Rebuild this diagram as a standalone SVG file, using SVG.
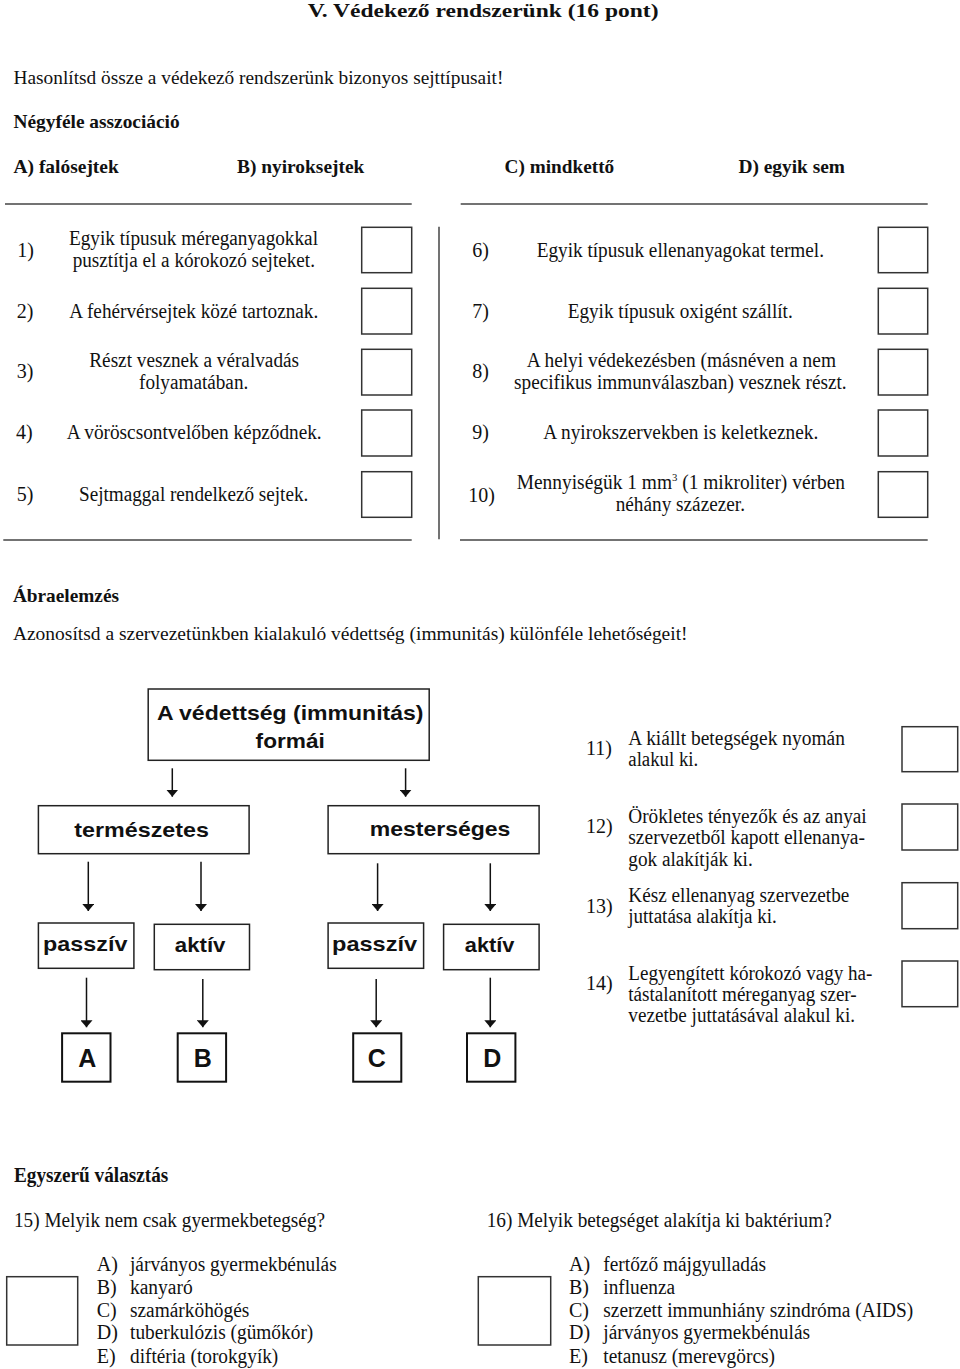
<svg xmlns="http://www.w3.org/2000/svg" width="960" height="1369" viewBox="0 0 960 1369">
<style>
.t{font-family:"Liberation Serif","Times New Roman",serif;font-size:20px;fill:#111}
.h{font-family:"Liberation Serif","Times New Roman",serif;font-size:19px;fill:#111}
.b{font-weight:bold}
.s{font-family:"Liberation Sans",Arial,sans-serif;font-weight:bold;font-size:21px;fill:#111}
.L{font-family:"Liberation Sans",Arial,sans-serif;font-weight:bold;font-size:25px;fill:#111;text-anchor:middle}
.box{fill:none;stroke:#333;stroke-width:1.5}
.nb{fill:#fff;stroke:#222;stroke-width:1.5}
.lb{fill:#fff;stroke:#111;stroke-width:2}
.rule{stroke:#444;stroke-width:1.5;fill:none}
.con{stroke:#111;stroke-width:1.5;fill:none;marker-end:url(#ah)}
</style>
<defs>
<marker id="ah" viewBox="0 0 7 12" refX="7" refY="6" markerWidth="7" markerHeight="12" markerUnits="userSpaceOnUse" orient="auto">
<path d="M0,0 L7,6 L0,12 z" fill="#111"/>
</marker>
</defs>
<rect width="960" height="1369" fill="#fff"/>

<!-- Header -->
<text class="h b" x="307.7" y="16.7" font-size="22" textLength="350.8" lengthAdjust="spacingAndGlyphs">V. Védekező rendszerünk (16 pont)</text>
<text class="h" x="13.5" y="84" textLength="489.9" lengthAdjust="spacingAndGlyphs">Hasonlítsd össze a védekező rendszerünk bizonyos sejttípusait!</text>
<text class="h b" x="13.5" y="128.3" textLength="166.2" lengthAdjust="spacingAndGlyphs">Négyféle asszociáció</text>
<text class="h b" x="13.5" y="173.3" textLength="105.3" lengthAdjust="spacingAndGlyphs">A) falósejtek</text>
<text class="h b" x="237" y="173.3" textLength="127.3" lengthAdjust="spacingAndGlyphs">B) nyiroksejtek</text>
<text class="h b" x="504.6" y="173.3" textLength="109.6" lengthAdjust="spacingAndGlyphs">C) mindkettő</text>
<text class="h b" x="738.5" y="173.3" textLength="106.5" lengthAdjust="spacingAndGlyphs">D) egyik sem</text>

<!-- Rules -->
<line class="rule" x1="5" y1="204" x2="411.7" y2="204"/>
<line class="rule" x1="460.7" y1="204" x2="927.7" y2="204"/>
<line class="rule" x1="3.3" y1="540" x2="411.7" y2="540"/>
<line class="rule" x1="460" y1="540" x2="927.7" y2="540"/>
<line class="rule" x1="439" y1="226.7" x2="439" y2="539.3"/>

<!-- Left column -->
<text class="t" x="17.3" y="256.7">1)</text>
<text class="t" x="69" y="245" textLength="249" lengthAdjust="spacingAndGlyphs">Egyik típusuk méreganyagokkal</text>
<text class="t" x="72.7" y="267.3" textLength="242.3" lengthAdjust="spacingAndGlyphs">pusztítja el a kórokozó sejteket.</text>
<text class="t" x="16.7" y="317.7">2)</text>
<text class="t" x="69.3" y="317.7" textLength="249" lengthAdjust="spacingAndGlyphs">A fehérvérsejtek közé tartoznak.</text>
<text class="t" x="16.7" y="378.3">3)</text>
<text class="t" x="89.3" y="367.3" textLength="209.7" lengthAdjust="spacingAndGlyphs">Részt vesznek a véralvadás</text>
<text class="t" x="139" y="389.3" textLength="109.3" lengthAdjust="spacingAndGlyphs">folyamatában.</text>
<text class="t" x="16" y="439.3">4)</text>
<text class="t" x="66.7" y="439.3" textLength="255" lengthAdjust="spacingAndGlyphs">A vöröscsontvelőben képződnek.</text>
<text class="t" x="16.7" y="500.7">5)</text>
<text class="t" x="79" y="500.7" textLength="229.3" lengthAdjust="spacingAndGlyphs">Sejtmaggal rendelkező sejtek.</text>
<rect class="box" x="361.7" y="227.3" width="50" height="45.4"/>
<rect class="box" x="361.7" y="288.3" width="50" height="45.7"/>
<rect class="box" x="361.7" y="349.3" width="50" height="45.7"/>
<rect class="box" x="361.7" y="410" width="50" height="46"/>
<rect class="box" x="361.7" y="471.7" width="50" height="45.6"/>

<!-- Right column -->
<text class="t" x="472.3" y="256.7">6)</text>
<text class="t" x="536.7" y="256.7" textLength="287.3" lengthAdjust="spacingAndGlyphs">Egyik típusuk ellenanyagokat termel.</text>
<text class="t" x="472.3" y="317.7">7)</text>
<text class="t" x="567.7" y="317.7" textLength="225" lengthAdjust="spacingAndGlyphs">Egyik típusuk oxigént szállít.</text>
<text class="t" x="472.3" y="378.3">8)</text>
<text class="t" x="526.7" y="367.3" textLength="309.3" lengthAdjust="spacingAndGlyphs">A helyi védekezésben (másnéven a nem</text>
<text class="t" x="514" y="389.3" textLength="332.7" lengthAdjust="spacingAndGlyphs">specifikus immunválaszban) vesznek részt.</text>
<text class="t" x="472.3" y="439.3">9)</text>
<text class="t" x="543.3" y="439.3" textLength="275" lengthAdjust="spacingAndGlyphs">A nyirokszervekben is keletkeznek.</text>
<text class="t" x="468.3" y="501.7">10)</text>
<text class="t" x="516.7" y="489" textLength="328.3" lengthAdjust="spacingAndGlyphs">Mennyiségük 1 mm<tspan font-size="11" dy="-8">3</tspan><tspan dy="8"> (1 mikroliter) vérben</tspan></text>
<text class="t" x="615.7" y="510.7" textLength="129.3" lengthAdjust="spacingAndGlyphs">néhány százezer.</text>
<rect class="box" x="878.3" y="227.3" width="49.4" height="45.4"/>
<rect class="box" x="878.3" y="288.3" width="49.4" height="45.7"/>
<rect class="box" x="878.3" y="349.3" width="49.4" height="45.7"/>
<rect class="box" x="878.3" y="410" width="49.4" height="46"/>
<rect class="box" x="878.3" y="471.7" width="49.4" height="45.6"/>

<!-- Section 2 -->
<text class="h b" x="12.9" y="602.3" textLength="106.1" lengthAdjust="spacingAndGlyphs">Ábraelemzés</text>
<text class="h" x="12.9" y="640" textLength="674.7" lengthAdjust="spacingAndGlyphs">Azonosítsd a szervezetünkben kialakuló védettség (immunitás) különféle lehetőségeit!</text>

<!-- Connectors -->
<g id="connectors">
<line class="con" x1="172.3" y1="768.3" x2="172.3" y2="796.7"/>
<line class="con" x1="405.6" y1="768.3" x2="405.6" y2="796.7"/>
<line class="con" x1="88.3" y1="861.7" x2="88.3" y2="911"/>
<line class="con" x1="201" y1="861.7" x2="201" y2="911"/>
<line class="con" x1="377.6" y1="863.3" x2="377.6" y2="911"/>
<line class="con" x1="490.3" y1="863.3" x2="490.3" y2="911"/>
<line class="con" x1="86.5" y1="977.7" x2="86.5" y2="1027.3"/>
<line class="con" x1="202.8" y1="979" x2="202.8" y2="1027.3"/>
<line class="con" x1="376.2" y1="979" x2="376.2" y2="1027.3"/>
<line class="con" x1="490.3" y1="977.7" x2="490.3" y2="1027.3"/>
</g>

<!-- Nodes -->
<g id="n-root">
<rect class="nb" x="148.2" y="689" width="281" height="71.3"/>
<text class="s" x="156.9" y="720" font-size="22" textLength="266.6" lengthAdjust="spacingAndGlyphs">A védettség (immunitás)</text>
<text class="s" x="255.6" y="747.7" font-size="22" textLength="69.2" lengthAdjust="spacingAndGlyphs">formái</text>
</g>
<g id="n-termeszetes">
<rect class="nb" x="38.4" y="805.7" width="210.7" height="48"/>
<text class="s" x="74.3" y="836.7" textLength="134.6" lengthAdjust="spacingAndGlyphs">természetes</text>
</g>
<g id="n-mesterseges">
<rect class="nb" x="328.1" y="805.7" width="211" height="48"/>
<text class="s" x="369.7" y="836" textLength="140.7" lengthAdjust="spacingAndGlyphs">mesterséges</text>
</g>
<g id="n-passziv1">
<rect class="nb" x="38.4" y="923" width="95.5" height="45.3"/>
<text class="s" x="43.1" y="950.7" textLength="84.3" lengthAdjust="spacingAndGlyphs">passzív</text>
</g>
<g id="n-aktiv1">
<rect class="nb" x="154.3" y="924.3" width="95.2" height="45.4"/>
<text class="s" x="174.8" y="951.7" textLength="50.6" lengthAdjust="spacingAndGlyphs">aktív</text>
</g>
<g id="n-passziv2">
<rect class="nb" x="328.1" y="923" width="95.5" height="45.3"/>
<text class="s" x="332" y="950.7" textLength="85.1" lengthAdjust="spacingAndGlyphs">passzív</text>
</g>
<g id="n-aktiv2">
<rect class="nb" x="443.6" y="924.3" width="95.5" height="45.4"/>
<text class="s" x="464.8" y="951.7" textLength="49.6" lengthAdjust="spacingAndGlyphs">aktív</text>
</g>
<g id="n-A">
<rect class="lb" x="62.1" y="1033.3" width="48.4" height="48.4"/>
<text class="L" x="87.2" y="1066.7">A</text>
</g>
<g id="n-B">
<rect class="lb" x="177.7" y="1033.3" width="48.4" height="48.4"/>
<text class="L" x="202.8" y="1066.7">B</text>
</g>
<g id="n-C">
<rect class="lb" x="353.2" y="1033.3" width="48.1" height="48.4"/>
<text class="L" x="376.9" y="1066.7">C</text>
</g>
<g id="n-D">
<rect class="lb" x="467" y="1033.3" width="48.4" height="48.4"/>
<text class="L" x="492.3" y="1066.7">D</text>
</g>

<!-- Questions 11-14 -->
<text class="t" x="586" y="755">11)</text>
<text class="t" x="628.3" y="744.7" textLength="216.7" lengthAdjust="spacingAndGlyphs">A kiállt betegségek nyomán</text>
<text class="t" x="628.3" y="765.7" textLength="70" lengthAdjust="spacingAndGlyphs">alakul ki.</text>
<text class="t" x="586" y="833.3">12)</text>
<text class="t" x="628.3" y="823.3" textLength="238.4" lengthAdjust="spacingAndGlyphs">Örökletes tényezők és az anyai</text>
<text class="t" x="628.3" y="844" textLength="236.7" lengthAdjust="spacingAndGlyphs">szervezetből kapott ellenanya-</text>
<text class="t" x="628.3" y="865.7" textLength="124.4" lengthAdjust="spacingAndGlyphs">gok alakítják ki.</text>
<text class="t" x="586" y="912.7">13)</text>
<text class="t" x="628.3" y="901.7" textLength="221" lengthAdjust="spacingAndGlyphs">Kész ellenanyag szervezetbe</text>
<text class="t" x="628.3" y="922.7" textLength="148.4" lengthAdjust="spacingAndGlyphs">juttatása alakítja ki.</text>
<text class="t" x="586" y="990">14)</text>
<text class="t" x="628.3" y="980" textLength="244" lengthAdjust="spacingAndGlyphs">Legyengített kórokozó vagy ha-</text>
<text class="t" x="628.3" y="1001" textLength="228.4" lengthAdjust="spacingAndGlyphs">tástalanított méreganyag szer-</text>
<text class="t" x="628.3" y="1021.7" textLength="226.7" lengthAdjust="spacingAndGlyphs">vezetbe juttatásával alakul ki.</text>
<rect class="box" x="902" y="726.7" width="55.7" height="45"/>
<rect class="box" x="902" y="804" width="55.7" height="46"/>
<rect class="box" x="902" y="882.7" width="55.7" height="46"/>
<rect class="box" x="902" y="961" width="55.7" height="45.7"/>

<!-- Section 3 -->
<text class="t b" x="14" y="1182.3" textLength="154.3" lengthAdjust="spacingAndGlyphs">Egyszerű választás</text>
<text class="t" x="14" y="1226.7" textLength="311" lengthAdjust="spacingAndGlyphs">15) Melyik nem csak gyermekbetegség?</text>
<text class="t" x="96.7" y="1270.7">A)</text>
<text class="t" x="130" y="1270.7" textLength="206.7" lengthAdjust="spacingAndGlyphs">járványos gyermekbénulás</text>
<text class="t" x="96.7" y="1294">B)</text>
<text class="t" x="130" y="1294" textLength="62.7" lengthAdjust="spacingAndGlyphs">kanyaró</text>
<text class="t" x="96.7" y="1316.7">C)</text>
<text class="t" x="130" y="1316.7" textLength="119.3" lengthAdjust="spacingAndGlyphs">szamárköhögés</text>
<text class="t" x="96.7" y="1339.3">D)</text>
<text class="t" x="130" y="1339.3" textLength="183.3" lengthAdjust="spacingAndGlyphs">tuberkulózis (gümőkór)</text>
<text class="t" x="96.7" y="1362.7">E)</text>
<text class="t" x="130" y="1362.7" textLength="148.3" lengthAdjust="spacingAndGlyphs">diftéria (torokgyík)</text>
<rect class="box" x="6.7" y="1276.7" width="71" height="68.3"/>

<text class="t" x="486.7" y="1226.7" textLength="345" lengthAdjust="spacingAndGlyphs">16) Melyik betegséget alakítja ki baktérium?</text>
<text class="t" x="569" y="1270.7">A)</text>
<text class="t" x="603.3" y="1270.7" textLength="162.7" lengthAdjust="spacingAndGlyphs">fertőző májgyulladás</text>
<text class="t" x="569" y="1294">B)</text>
<text class="t" x="603.3" y="1294" textLength="71.7" lengthAdjust="spacingAndGlyphs">influenza</text>
<text class="t" x="569" y="1316.7">C)</text>
<text class="t" x="603.3" y="1316.7" textLength="310" lengthAdjust="spacingAndGlyphs">szerzett immunhiány szindróma (AIDS)</text>
<text class="t" x="569" y="1339.3">D)</text>
<text class="t" x="603.3" y="1339.3" textLength="206.7" lengthAdjust="spacingAndGlyphs">járványos gyermekbénulás</text>
<text class="t" x="569" y="1362.7">E)</text>
<text class="t" x="603.3" y="1362.7" textLength="171.7" lengthAdjust="spacingAndGlyphs">tetanusz (merevgörcs)</text>
<rect class="box" x="478.3" y="1276.7" width="72.4" height="68.3"/>
</svg>
